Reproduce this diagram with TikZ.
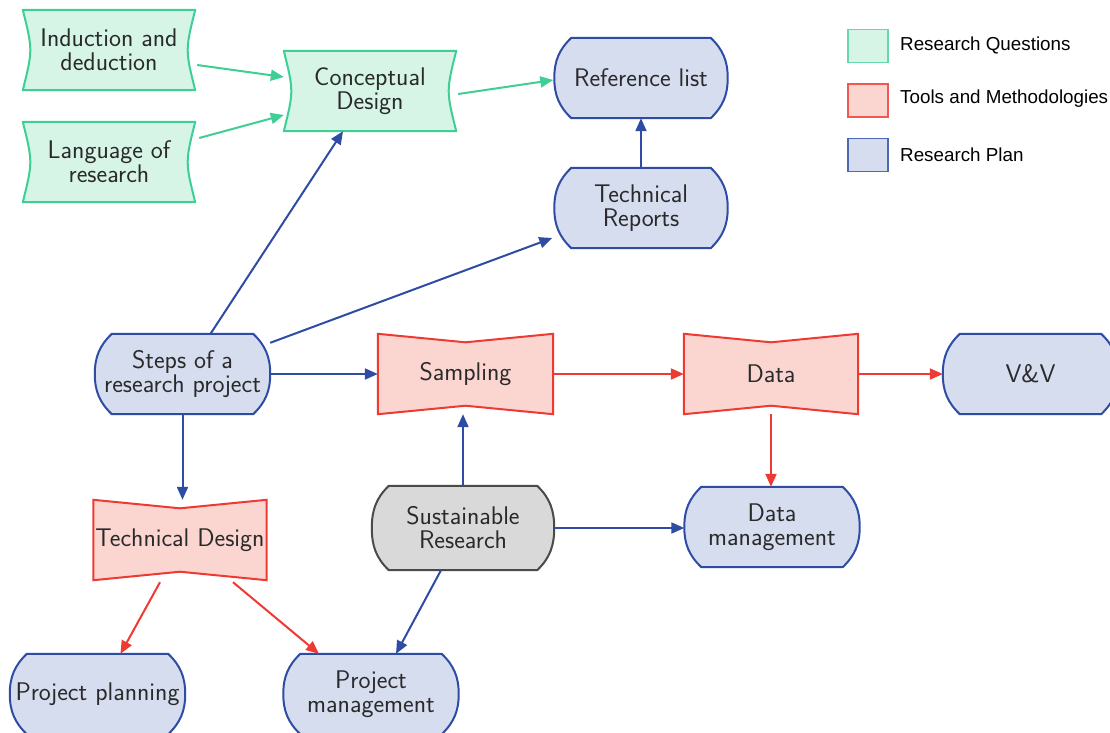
\documentclass[tikz,border=0pt]{standalone}
\usepackage{fontspec}
\newfontfamily\legendfont{Liberation Sans}
\usetikzlibrary{arrows.meta,calc}
\pgfdeclarelayer{background}
\pgfsetlayers{background,main}
\definecolor{qline}{HTML}{3FCF95}
\definecolor{qfill}{HTML}{D6F5E7}
\definecolor{tline}{HTML}{EE3A33}
\definecolor{tfill}{HTML}{FBD6D1}
\definecolor{pline}{HTML}{2F4CA5}
\definecolor{pfill}{HTML}{D6DDEF}
\definecolor{sline}{HTML}{4A4A4A}
\definecolor{sfill}{HTML}{D9D9D9}
\definecolor{txt}{HTML}{2A2A2A}
\tikzset{
  box/.style={draw=none, minimum width=174pt, minimum height=80pt, inner sep=0pt,
    align=center, text=txt, font=\sffamily\fontsize{25.5}{24}\selectfont},
  qshape/.style={draw=qline, fill=qfill, line width=2pt, line join=round},
  tshape/.style={draw=tline, fill=tfill, line width=2pt, line join=miter},
  pshape/.style={draw=pline, fill=pfill, line width=2pt, line join=round},
  sshape/.style={draw=sline, fill=sfill, line width=2pt, line join=round},
  conn/.style={line width=2pt, -{Triangle[length=13pt,width=11pt]}},
  qarrow/.style={conn, draw=qline, fill=qline},
  tarrow/.style={conn, draw=tline, fill=tline},
  parrow/.style={conn, draw=pline, fill=pline},
  legbox/.style={minimum width=40pt, minimum height=33pt, inner sep=0pt, line width=1.6pt},
  legtext/.style={anchor=west, inner sep=0pt, text=black, font=\legendfont\fontsize{18.8}{20}\selectfont},
}
\newcommand\questoutline[1]{%
  \draw[qshape] (#1.north west) -- (#1.north east)
    .. controls ([xshift=-10pt]#1.east) .. (#1.south east) -- (#1.south west)
    .. controls ([xshift=10pt]#1.west) .. (#1.north west) -- cycle;}
\newcommand\tooloutline[1]{%
  \draw[tshape] (#1.north west) -- ([yshift=-8.5pt]#1.north) -- (#1.north east)
    -- (#1.south east) -- ([yshift=8.5pt]#1.south) -- (#1.south west) -- cycle;}
\newcommand\planoutline[2]{%
  \draw[#2] ([xshift=17pt]#1.north west) -- ([xshift=-17pt]#1.north east)
    to[out=-44,in=90] (#1.east) to[out=-90,in=44] ([xshift=-17pt]#1.south east)
    -- ([xshift=17pt]#1.south west) to[out=136,in=-90] (#1.west)
    to[out=90,in=-136] ([xshift=17pt]#1.north west) -- cycle;}
\begin{document}
\begin{tikzpicture}[x=1pt,y=1pt]
\useasboundingbox (0,0) rectangle (1110,-732);
% nodes
\node[box, minimum width=172pt] (ind) at (109,-50) {Induction and\\deduction};
\node[box, minimum width=172pt] (lang) at (109,-162) {Language of\\research};
\node[box, minimum width=172pt] (cd) at (370,-91) {Conceptual\\Design};
\node[box, minimum width=173pt] (ref) at (641,-78) {Reference list};
\node[box, minimum width=173pt] (tr) at (641,-208) {Technical\\Reports};
\node[box, minimum width=175pt] (steps) at (182.5,-374) {Steps of a\\research project};
\node[box, minimum width=175pt] (samp) at (465.5,-374) {Sampling};
\node[box, minimum width=174pt] (data) at (771,-374) {Data};
\node[box, minimum width=175pt] (vv) at (1030.5,-374) {V\&V};
\node[box, minimum width=173pt] (td) at (180,-540) {Technical Design};
\node[box, minimum width=182pt, minimum height=84pt] (sust) at (463,-528) {Sustainable\\Research};
\node[box, minimum width=175pt] (dm) at (772,-527) {Data\\management};
\node[box, minimum width=175pt] (pp) at (97.5,-694) {Project planning};
\node[box, minimum width=175pt] (pm) at (371,-694) {Project\\management};
% legend
\node[legbox, draw=qline!80, fill=qfill] (lq) at (868,-46) {};
\node[legbox, draw=tline!85, fill=tfill] (lt) at (868,-100.5) {};
\node[legbox, draw=pline!85, fill=pfill] (lp) at (868,-155) {};
\node[legtext] (lqt) at (900,-45) {Research Questions};
\node[legtext] (ltt) at (900,-99) {Tools and Methodologies};
\node[legtext] (lpt) at (900,-155) {Research Plan};
% outlines
\begin{pgfonlayer}{background}
\fill[white] (0,0) rectangle (1110,-732);
\questoutline{ind}
\questoutline{lang}
\questoutline{cd}
\tooloutline{samp}
\tooloutline{data}
\tooloutline{td}
\planoutline{ref}{pshape}
\planoutline{tr}{pshape}
\planoutline{steps}{pshape}
\planoutline{vv}{pshape}
\planoutline{dm}{pshape}
\planoutline{pp}{pshape}
\planoutline{pm}{pshape}
\planoutline{sust}{sshape}
\end{pgfonlayer}
% connectors
\draw[qarrow] ([xshift=2pt,yshift=-15pt]ind.east) -- ([yshift=14pt]cd.west);
\draw[qarrow] ([xshift=4pt,yshift=24pt]lang.east) -- ([yshift=-24pt]cd.west);
\draw[qarrow] ([xshift=2pt,yshift=-3pt]cd.east) -- ([xshift=-1pt,yshift=-2pt]ref.west);
\draw[parrow] (tr.north) -- (ref.south);
\draw[parrow] ([xshift=28pt]steps.north) -- ([xshift=-27pt]cd.south);
\draw[parrow] ([yshift=-9pt]steps.north east) -- ([xshift=-2pt,yshift=-30pt]tr.west);
\draw[parrow] (steps.east) -- (samp.west);
\draw[parrow] (steps.south) -- (steps.south |- td.north);
\draw[tarrow] (samp.east) -- (data.west);
\draw[tarrow] (data.east) -- (vv.west);
\draw[tarrow] (data.south) -- (data.south |- dm.north);
\draw[parrow] (sust.north) -- (sust.north |- samp.south);
\draw[parrow] (sust.east) -- (sust.east -| dm.west);
\draw[parrow] ([xshift=-22pt]sust.south) -- ([xshift=25pt]pm.north);
\draw[tarrow] ([xshift=-20pt,yshift=-2pt]td.south) -- ([xshift=23pt]pp.north);
\draw[tarrow] ([xshift=53pt,yshift=-2pt]td.south) -- ([xshift=-52pt]pm.north);
\end{tikzpicture}
\end{document}
